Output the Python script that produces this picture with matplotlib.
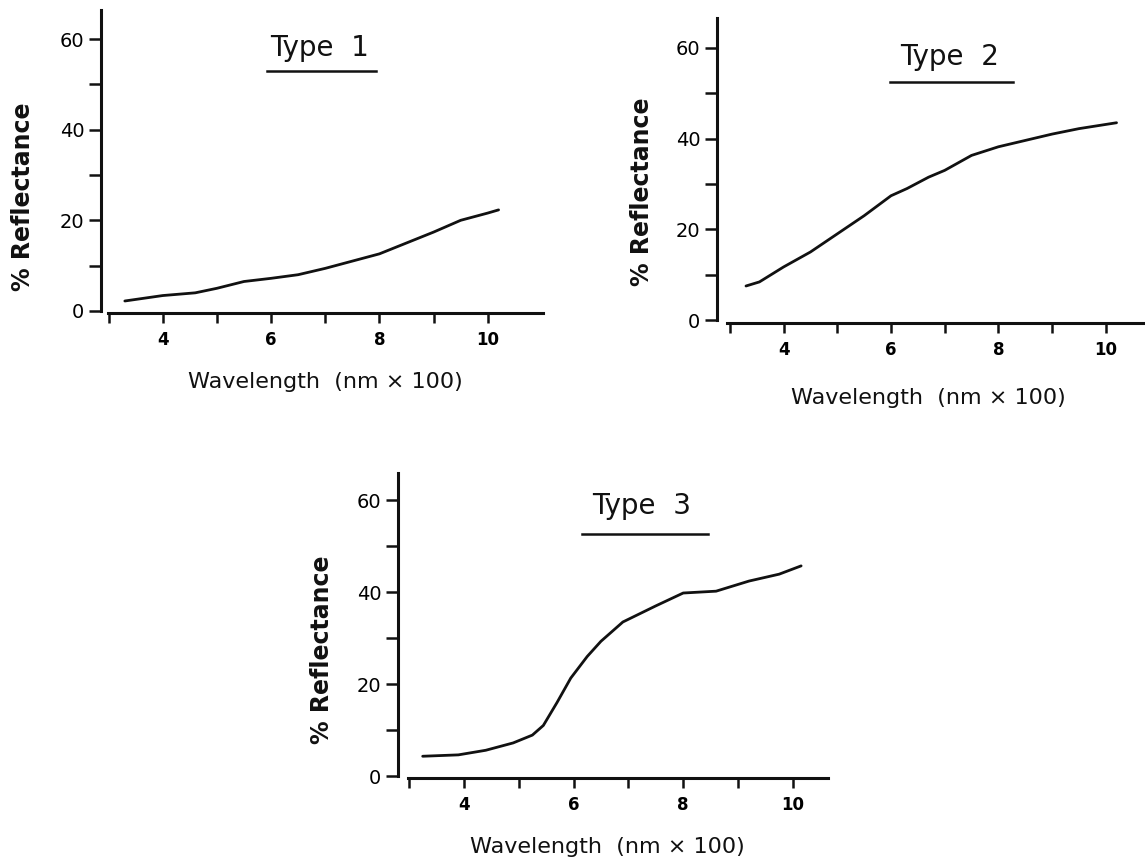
import matplotlib
matplotlib.use("Agg")
import matplotlib.pyplot as plt
from matplotlib.lines import Line2D

W, H = 1145, 865

# --- data ---
wl_type1 = [3.3, 4.0, 4.6, 5.0, 5.5, 6.0, 6.5, 7.0, 7.5, 8.0, 8.5, 9.0, 9.5, 10.0, 10.2]
refl_type1 = [2.2, 3.4, 4.0, 5.0, 6.5, 7.2, 8.0, 9.4, 11.0, 12.6, 15.0, 17.4, 20.0, 21.6, 22.3]

wl_type2 = [3.3, 3.55, 4.0, 4.5, 5.0, 5.5, 6.0, 6.3, 6.7, 7.0, 7.5, 8.0, 8.5, 9.0, 9.5, 10.2]
refl_type2 = [7.5, 8.4, 11.7, 15.0, 19.0, 23.0, 27.4, 29.0, 31.5, 33.0, 36.3, 38.2, 39.6, 41.0, 42.2, 43.5]

wl_type3 = [3.25, 3.9, 4.4, 4.9, 5.25, 5.45, 5.7, 5.95, 6.25, 6.5, 6.9, 7.5, 8.0, 8.6, 9.2, 9.75, 10.15]
refl_type3 = [4.3, 4.6, 5.6, 7.2, 8.9, 11.0, 16.0, 21.3, 26.0, 29.3, 33.5, 37.0, 39.8, 40.2, 42.4, 43.9, 45.7]

titles = ["Type  1", "Type  2", "Type  3"]
x_ticks = [4, 6, 8, 10]
x_minor = [3, 5, 7, 9]
y_ticks = [0, 20, 40, 60]
y_minor = [10, 30, 50]
x_label = "Wavelength  (nm \u00d7 100)"
y_label = "% Reflectance"

ink = "#111111"
plt.rcParams['font.family'] = ['DejaVu Sans']

fig = plt.figure(figsize=(W / 100, H / 100), dpi=100)


def fx(px):
    return px / W


def fy(py):
    return 1 - py / H


# panel geometry in pixels: y-axis x, x-axis end x, x-axis y, y-axis top y,
# plus data limits at those edges
panels = [
    dict(x=wl_type1, y=refl_type1, left=101, right=543, bottom=313, top=10,
         xlim=(2.86, 11.02), ylim=(-0.45, 66.4), xstart=2.98,
         title=(320, 48), uline=(267, 376, 71), xlab=(325, 382), ylab=(23, 197)),
    dict(x=wl_type2, y=refl_type2, left=717, right=1145, bottom=323, top=18,
         xlim=(2.76, 10.73), ylim=(-0.66, 66.6), xstart=2.94,
         title=(950, 57), uline=(890, 1013, 82), xlab=(928, 398), ylab=(642, 192)),
    dict(x=wl_type3, y=refl_type3, left=398, right=828, bottom=778, top=473,
         xlim=(2.80, 10.64), ylim=(-0.43, 65.9), xstart=2.98,
         title=(642, 506), uline=(582, 708, 534), xlab=(607, 847), ylab=(322, 650)),
]

for p, title in zip(panels, titles):
    ax = fig.add_axes([fx(p['left']), fy(p['bottom']),
                       (p['right'] - p['left']) / W, (p['bottom'] - p['top']) / H])
    ax.plot(p['x'], p['y'], color=ink, lw=2.0, solid_capstyle='round')
    ax.set_xlim(*p['xlim'])
    ax.set_ylim(*p['ylim'])
    ax.patch.set_alpha(0)

    for s in ['top', 'right']:
        ax.spines[s].set_visible(False)
    ax.spines['left'].set_bounds(0, p['ylim'][1])
    ax.spines['bottom'].set_bounds(p['xstart'], p['xlim'][1])
    for s in ['left', 'bottom']:
        ax.spines[s].set_linewidth(2.2)
        ax.spines[s].set_color(ink)

    ax.set_xticks(x_ticks)
    ax.set_xticks(x_minor, minor=True)
    ax.set_yticks(y_ticks)
    ax.set_yticks(y_minor, minor=True)
    ax.tick_params(axis='both', which='both', direction='out', color=ink, width=1.8)
    ax.tick_params(axis='y', which='both', length=9, pad=3, labelsize=14)
    ax.tick_params(axis='x', which='both', length=7, pad=6, labelsize=12)
    for lab in ax.get_xticklabels():
        lab.set_fontweight('bold')

    fig.text(fx(p['title'][0]), fy(p['title'][1]), title, fontsize=20,
             ha='center', va='center', color=ink)
    x0, x1, yl = p['uline']
    fig.add_artist(Line2D([fx(x0), fx(x1)], [fy(yl), fy(yl)], color=ink, lw=1.8))
    fig.text(fx(p['xlab'][0]), fy(p['xlab'][1]), x_label, fontsize=16,
             ha='center', va='center', color=ink)
    fig.text(fx(p['ylab'][0]), fy(p['ylab'][1]), y_label, fontsize=17,
             fontweight='bold', rotation=90, ha='center', va='center', color=ink)

fig.savefig("out.png", dpi=100, facecolor="white")
